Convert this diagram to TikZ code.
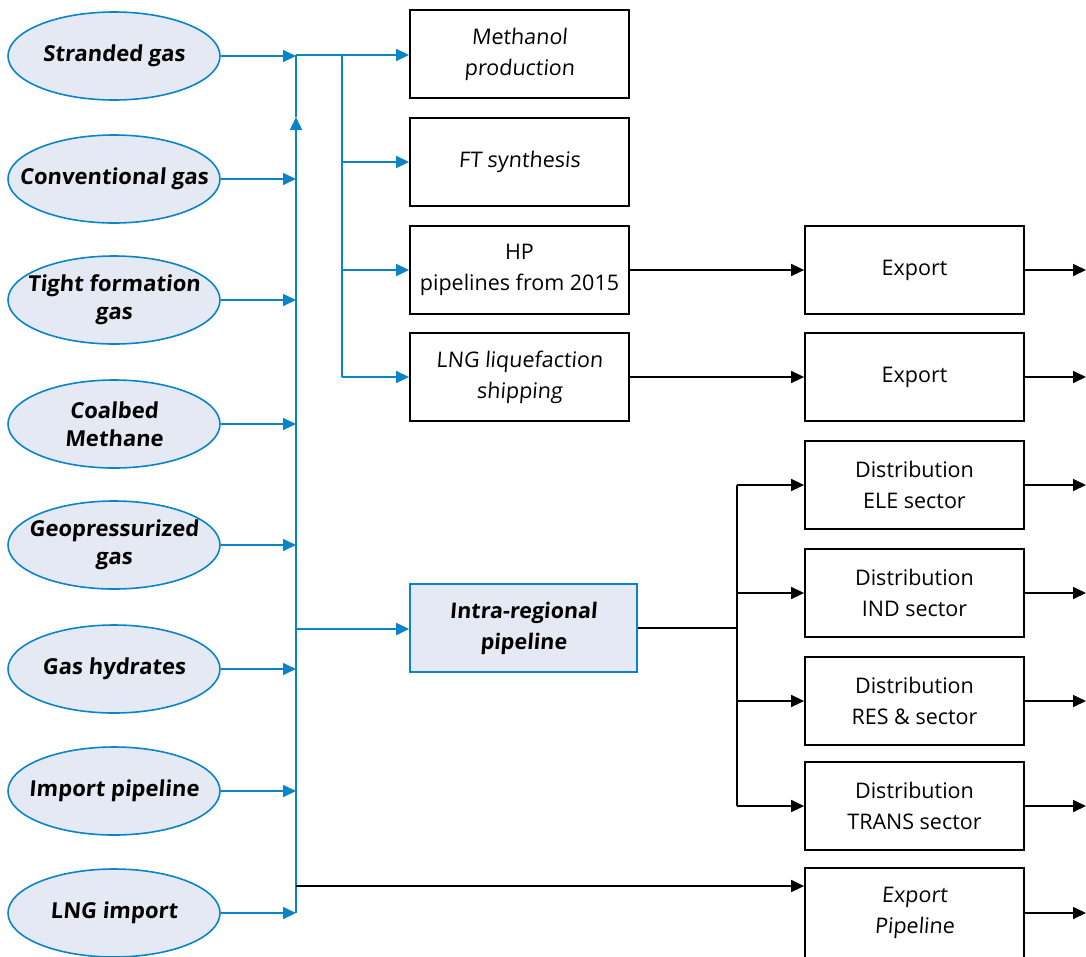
\documentclass[tikz,border=0pt]{standalone}
\usepackage{fontspec}
\setmainfont{Open Sans}[FakeSlant=0.08]
\newfontfamily\uprightfont{Open Sans}
\usetikzlibrary{arrows.meta,shapes.geometric}
\definecolor{flowblue}{HTML}{0A84C8}
\definecolor{paleblue}{HTML}{E5E9F4}
\tikzset{
  source/.style={ellipse, draw=flowblue, line width=1.6pt, fill=paleblue,
    minimum width=212pt, minimum height=88pt, inner sep=-32pt, align=center,
    font=\fontsize{22}{28}\selectfont\bfseries},
  stage/.style={rectangle, draw=black, line width=1.8pt, fill=white,
    minimum width=219pt, minimum height=88pt, inner sep=0pt, align=center,
    font=\fontsize{21.5}{31}\selectfont},
  plain/.style={stage, font=\fontsize{21.5}{31}\selectfont\uprightfont},
  hub/.style={rectangle, draw=flowblue, line width=1.6pt, fill=paleblue,
    minimum width=227pt, minimum height=88pt, inner sep=0pt, align=center,
    font=\fontsize{21.5}{31}\selectfont\bfseries},
  bline/.style={draw=flowblue, line width=1.6pt},
  barrow/.style={bline, -{Triangle[length=13pt,width=12pt]}},
  kline/.style={draw=black, line width=1.6pt},
  karrow/.style={kline, -{Triangle[length=13pt,width=12pt]}}
}
\begin{document}
\begin{tikzpicture}[x=1pt,y=-1pt]
\useasboundingbox (0,0) rectangle (1086,956);

% gas sources
\node[source] (s1) at (114,56)  {Stranded gas};
\node[source] (s2) at (114,179) {Conventional gas};
\node[source] (s3) at (114,300) {Tight formation\\gas};
\node[source] (s4) at (114,424) {Coalbed\\Methane};
\node[source] (s5) at (114,545) {Geopressurized\\gas};
\node[source] (s6) at (114,669) {Gas hydrates};
\node[source] (s7) at (114,791) {Import pipeline};
\node[source] (s8) at (114,913) {LNG import};

% conversion and transport stages
\node[stage] (meth) at (519.5,54)  {Methanol\\production};
\node[stage] (ft)   at (519.5,162) {FT synthesis};
\node[plain] (hp)   at (519.5,270) {HP\\pipelines from 2015};
\node[stage] (lng)  at (519.5,377) {LNG liquefaction\\shipping};
\node[hub]   (intra) at (523.5,628) {Intra-regional\\pipeline};

% end uses
\node[plain] (ex1)  at (914.5,270) {Export};
\node[plain] (ex2)  at (914.5,377) {Export};
\node[plain] (ele)  at (914.5,485) {Distribution\\ELE sector};
\node[plain] (ind)  at (914.5,593) {Distribution\\IND sector};
\node[plain] (res)  at (914.5,701) {Distribution\\RES \& sector};
\node[plain] (tra)  at (914.5,806) {Distribution\\TRANS sector};
\node[stage, minimum height=90pt] (xp) at (914.5,913) {Export\\Pipeline};

% collector trunk
\coordinate (ttop) at (296,55);
\coordinate (tmid) at (296,117);
\coordinate (tbot) at (296,913);
\coordinate (tint) at (296,629);
\coordinate (texp) at (296,886);
\foreach \s in {s1,s2,s3,s4,s5,s6,s7,s8}
  \draw[barrow] (\s.east) -- (\s.east -| tbot);
\draw[barrow] (tbot) -- (tmid);
\draw[bline] (tmid) -- (ttop);

% upper branch
\coordinate (btop) at (342,55);
\coordinate (bbot) at (342,377);
\draw[barrow] (ttop) -- (meth.west |- ttop);
\draw[bline] (btop) -- (bbot);
\draw[barrow] (btop |- ft.west) -- (ft.west);
\draw[barrow] (btop |- hp.west) -- (hp.west);
\draw[barrow] (bbot) -- (lng.west);
\draw[barrow] (tint) -- (intra.west |- tint);

% direct export pipeline
\draw[karrow] (texp) -- (xp.west |- texp);

% export routes
\draw[karrow] (hp.east) -- (ex1.west);
\draw[karrow] (lng.east) -- (ex2.west);

% distribution splitter
\coordinate (dtop) at (737,485);
\coordinate (dbot) at (737,806);
\draw[kline] (intra.east) -- (intra.east -| dtop);
\draw[kline] (dtop) -- (dbot);
\draw[karrow] (dtop) -- (ele.west);
\draw[karrow] (dtop |- ind.west) -- (ind.west);
\draw[karrow] (dtop |- res.west) -- (res.west);
\draw[karrow] (dbot) -- (tra.west);

% outgoing flows
\foreach \n in {ex1,ex2,ele,ind,res,tra,xp}
  \draw[karrow] (\n.east) -- (1086,0 |- \n.east);
\end{tikzpicture}
\end{document}
